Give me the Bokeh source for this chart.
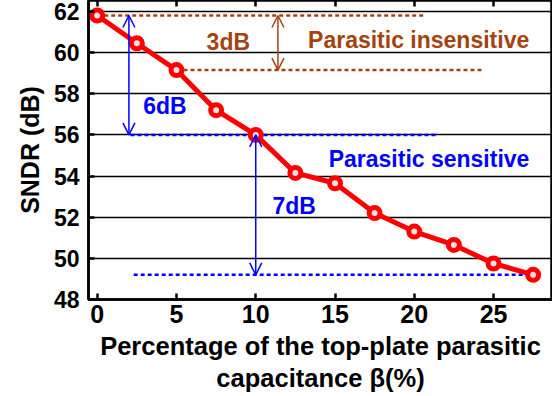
from bokeh.plotting import figure
from bokeh.models import (Range1d, FixedTicker, LinearAxis, Arrow, OpenHead, Label)
from bokeh.embed import file_html
from bokeh.resources import INLINE

# data
beta = [0, 2.5, 5, 7.5, 10, 12.5, 15, 17.5, 20, 22.5, 25, 27.5]
sndr = [61.8, 60.45, 59.15, 57.2, 56.0, 54.15, 53.65, 52.2, 51.3, 50.65, 49.75, 49.2]
x_ticks = [0, 5, 10, 15, 20, 25]
y_ticks = [48, 50, 52, 54, 56, 58, 60, 62]

BROWN = "#a3430f"
BLUE = "#0000ff"
RED = "#ff0000"
FONT = "Liberation Sans"

p = figure(width=552, height=396, output_backend="svg", toolbar_location=None,
           x_range=Range1d(-0.55, 28.72), y_range=Range1d(48, 62.53),
           min_border_left=88, min_border_right=0, min_border_top=0, min_border_bottom=97)
p.background_fill_color = "white"
p.border_fill_color = "white"
p.outline_line_color = "black"
p.outline_line_width = 2.5

p.xgrid.visible = False
p.ygrid.ticker = FixedTicker(ticks=y_ticks)
p.ygrid.grid_line_color = "black"
p.ygrid.grid_line_width = 1.5

for ax in (p.xaxis[0], p.yaxis[0]):
    ax.axis_line_width = 2.5
    ax.major_tick_in = 6
    ax.major_tick_out = 0
    ax.major_tick_line_width = 2.5
    ax.minor_tick_line_color = None
    ax.major_label_text_font = FONT
    ax.major_label_text_font_style = "bold"
    ax.major_label_text_color = "black"
    ax.axis_label_text_font = FONT
    ax.axis_label_text_font_style = "bold"
    ax.axis_label_text_color = "black"

p.xaxis[0].ticker = FixedTicker(ticks=x_ticks)
p.xaxis[0].major_label_text_font_size = "25px"
p.xaxis[0].major_label_standoff = 5
p.xaxis[0].axis_label = "Percentage of the top-plate parasitic\ncapacitance \u03b2(%)"
p.xaxis[0].axis_label_text_font_size = "25.5px"
p.xaxis[0].axis_label_standoff = 6
p.xaxis[0].axis_label_text_line_height = 1.15

p.yaxis[0].ticker = FixedTicker(ticks=y_ticks)
p.yaxis[0].major_label_text_font_size = "23px"
p.yaxis[0].major_label_standoff = 9
p.yaxis[0].axis_label = "SNDR (dB)"
p.yaxis[0].axis_label_text_font_size = "25px"
p.yaxis[0].axis_label_standoff = 7

top = LinearAxis(ticker=FixedTicker(ticks=x_ticks), major_tick_in=6, major_tick_out=0,
                 major_tick_line_width=2.5, axis_line_color=None, minor_tick_line_color=None,
                 major_label_overrides={t: "" for t in x_ticks},
                 major_label_text_font_size="1px", major_label_standoff=0)
p.add_layout(top, "above")

# reference dashed lines (derived from the data points)
p.line([beta[0], 20.7], [sndr[0], sndr[0]], line_color=BROWN, line_width=2.5, line_dash="4 3")
p.line([beta[2], 24.4], [sndr[2], sndr[2]], line_color=BROWN, line_width=2.5, line_dash="4 3")
p.line([2.1, 21.5], [sndr[4], sndr[4]], line_color=BLUE, line_width=2.5, line_dash="4 3")
p.line([2.3, beta[-1]], [sndr[-1], sndr[-1]], line_color=BLUE, line_width=2.5, line_dash="4 3")

# data
p.line(beta, sndr, line_color=RED, line_width=5)
p.scatter(beta, sndr, size=11, line_color=RED, line_width=5, fill_color="#ffe0e0")

# arrows
def arrow(x0, y0, x1, y1, c):
    p.add_layout(Arrow(x_start=x0, y_start=y0, x_end=x1, y_end=y1,
                       start=OpenHead(size=12, line_color=c, line_width=1.5),
                       end=OpenHead(size=12, line_color=c, line_width=1.5),
                       line_color=c, line_width=1.5))

arrow(11.4, sndr[2], 11.4, sndr[0], BROWN)
arrow(2.0, sndr[4], 2.0, sndr[0], BLUE)
arrow(beta[4], sndr[-1], beta[4], sndr[4], BLUE)

def lab(x, y, t, c):
    p.add_layout(Label(x=x, y=y, text=t, text_color=c, text_font=FONT,
                       text_font_style="bold", text_font_size="23px",
                       text_baseline="middle", text_align="left"))

lab(6.9, 60.52, "3dB", BROWN)
lab(13.3, 60.62, "Parasitic insensitive", BROWN)
lab(2.9, 57.4, "6dB", BLUE)
lab(14.6, 54.85, "Parasitic sensitive", BLUE)
lab(11.05, 52.55, "7dB", BLUE)

open("out.html", "w").write(file_html(p, INLINE))
